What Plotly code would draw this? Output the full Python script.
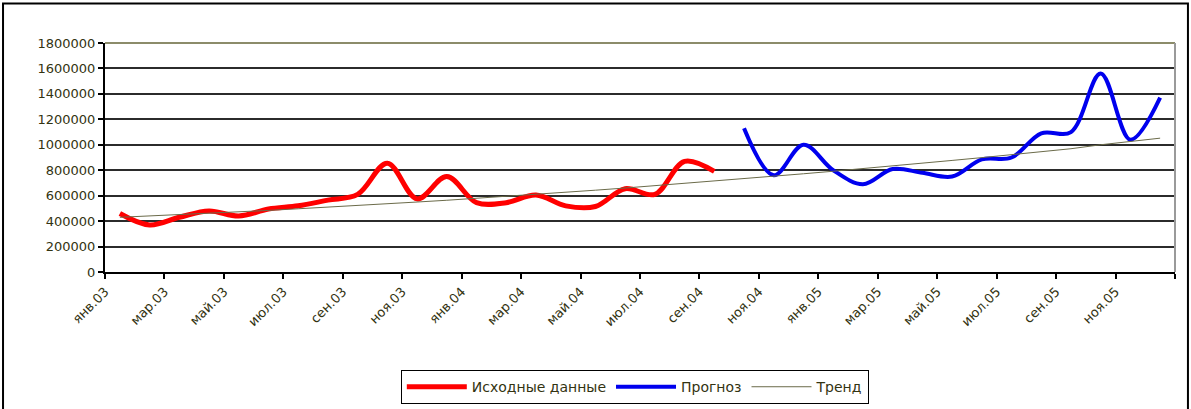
import plotly.graph_objects as go

months = list(range(36))
tick_labels = ["янв.03", "мар.03", "май.03", "июл.03", "сен.03", "ноя.03",
               "янв.04", "мар.04", "май.04", "июл.04", "сен.04", "ноя.04",
               "янв.05", "мар.05", "май.05", "июл.05", "сен.05", "ноя.05", ""]
tick_positions = [-0.5 + 2 * k for k in range(19)]

source_x = list(range(0, 21))
source_values = [460000, 370000, 430000, 480000, 440000, 495000, 520000, 565000,
                 610000, 855000, 575000, 750000, 545000, 545000, 605000, 520000,
                 515000, 655000, 610000, 870000, 790000]

forecast_x = list(range(21, 36))
forecast_values = [1130000, 760000, 1000000, 800000, 690000, 810000, 780000, 750000,
                   885000, 900000, 1090000, 1100000, 1560000, 1040000, 1370000]

trend_values = [430000, 440000, 450000, 461000, 473000, 484000, 497000, 509000,
                522000, 536000, 550000, 564000, 579000, 594000, 610000, 626000,
                643000, 660000, 678000, 695000, 714000, 733000, 752000, 772000,
                792000, 812000, 833000, 855000, 877000, 899000, 922000, 945000,
                969000, 1000000, 1025000, 1052000]

y_ticks = [0, 200000, 400000, 600000, 800000, 1000000, 1200000, 1400000, 1600000, 1800000]

text_color = "#333311"
font_family = "DejaVu Sans, Arial, sans-serif"

fig = go.Figure()
fig.add_trace(go.Scatter(
    x=source_x, y=source_values, mode="lines", name="Исходные данные",
    line=dict(color="#FF0000", width=5, shape="spline", smoothing=1.0)))
fig.add_trace(go.Scatter(
    x=forecast_x, y=forecast_values, mode="lines", name="Прогноз",
    line=dict(color="#0000EE", width=4, shape="spline", smoothing=1.0)))
fig.add_trace(go.Scatter(
    x=months, y=trend_values, mode="lines", name="Тренд",
    line=dict(color="#6b6b4a", width=1)))

fig.update_layout(
    width=1191, height=409,
    margin=dict(l=105, r=16, t=43, b=137),
    paper_bgcolor="white", plot_bgcolor="white",
    font=dict(family=font_family, size=12, color=text_color),
    showlegend=True,
    legend=dict(orientation="h", xref="container", yref="container",
                x=0.533, xanchor="center", y=0.095, yanchor="top",
                bordercolor="black", borderwidth=1, bgcolor="white",
                font=dict(family=font_family, size=14, color=text_color),
                traceorder="normal", itemwidth=60),
    xaxis=dict(range=[-0.5, 35.5], tickmode="array", tickvals=tick_positions,
               ticktext=tick_labels, tickangle=-45, showgrid=False, zeroline=False,
               showline=True, linecolor="black", linewidth=2, automargin=False,
               ticks="outside", ticklen=5, tickcolor="black", tickwidth=2,
               tickfont=dict(family=font_family, size=13, color=text_color)),
    yaxis=dict(range=[0, 1800000], tickmode="array", tickvals=y_ticks,
               ticktext=[str(v) for v in y_ticks], showgrid=True, automargin=False,
               gridcolor="#2b2b2b", gridwidth=2, zeroline=False,
               showline=True, linecolor="black", linewidth=2,
               ticks="outside", ticklen=5, tickcolor="black", tickwidth=2,
               tickfont=dict(family=font_family, size=13, color=text_color)),
    shapes=[
        dict(type="line", xref="paper", yref="paper", x0=0, x1=1, y0=1, y1=1,
             line=dict(color="#8c8c6a", width=2)),
        dict(type="line", xref="paper", yref="paper", x0=1, x1=1, y0=0, y1=1,
             line=dict(color="#9a9a9a", width=2)),
        dict(type="rect", xref="paper", yref="paper", x0=-0.0953, x1=1.0121,
             y0=-0.62, y1=1.173, line=dict(color="black", width=2)),
    ],
)

fig.write_html("out.html")
